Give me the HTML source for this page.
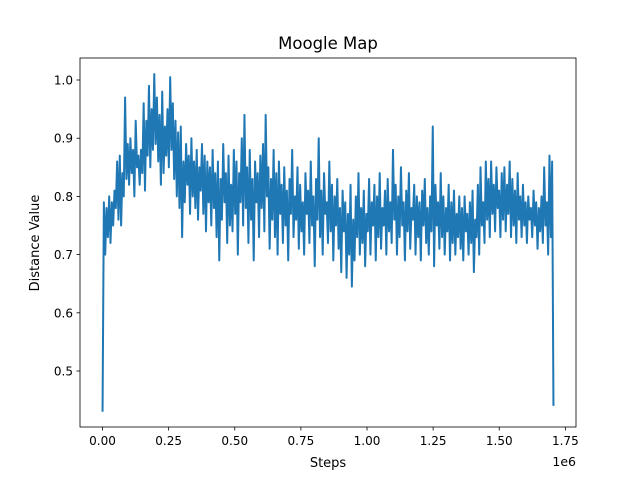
<!DOCTYPE html>
<html><head><meta charset="utf-8"><style>
body{margin:0;background:#fff;}
svg{font-family:"DejaVu Sans","Liberation Sans",sans-serif;}
</style></head><body>
<svg id="c" width="640" height="480">
<rect width="640" height="480" fill="#fff"/>
<text x="328" y="49" font-size="16.5" text-anchor="middle">Moogle Map</text>
<text x="328" y="467" font-size="13" text-anchor="middle">Steps</text>
<text x="39" y="243" font-size="13" text-anchor="middle" transform="rotate(-90 39 243)">Distance Value</text>
<text x="576" y="466" font-size="12.5" text-anchor="end">1e6</text>
<g id="ticks"></g>
<path id="line" fill="none" stroke="#1f77b4" stroke-width="2" stroke-linejoin="round"/>
<rect x="80" y="58" width="496" height="369" fill="none" stroke="#000" stroke-width="0.8"/>
</svg>
<script>
const xTicks=[0,0.25,0.5,0.75,1.0,1.25,1.5,1.75];
const xTickLabels=["0.00","0.25","0.50","0.75","1.00","1.25","1.50","1.75"];
const yTicks=[0.5,0.6,0.7,0.8,0.9,1.0];
const yTickLabels=["0.5","0.6","0.7","0.8","0.9","1.0"];
const stepStart=0, stepEnd=1.705;
const values=[
0.43,0.79,0.70,0.78,0.73,0.80,0.72,0.79,0.75,0.81,
0.78,0.86,0.76,0.87,0.75,0.84,0.80,0.97,0.83,0.89,
0.82,0.90,0.84,0.88,0.80,0.93,0.85,0.87,0.82,0.88,
0.84,0.96,0.81,0.93,0.87,0.99,0.85,0.95,0.88,1.01,
0.89,0.97,0.86,0.94,0.82,0.98,0.84,0.92,0.87,0.95,
0.85,1.005,0.88,0.96,0.83,0.93,0.80,0.91,0.78,0.92,
0.73,0.86,0.79,0.89,0.82,0.87,0.77,0.90,0.80,0.86,
0.78,0.88,0.76,0.85,0.81,0.89,0.77,0.87,0.74,0.86,
0.79,0.85,0.75,0.88,0.78,0.84,0.73,0.86,0.69,0.83,
0.76,0.89,0.79,0.84,0.72,0.87,0.75,0.82,0.74,0.88,
0.77,0.86,0.70,0.84,0.79,0.90,0.75,0.94,0.78,0.85,
0.72,0.88,0.76,0.83,0.69,0.86,0.79,0.84,0.73,0.87,
0.78,0.89,0.74,0.94,0.80,0.85,0.71,0.83,0.76,0.88,
0.73,0.84,0.70,0.86,0.77,0.82,0.72,0.85,0.75,0.81,
0.69,0.83,0.77,0.88,0.73,0.80,0.76,0.85,0.71,0.82,
0.74,0.79,0.70,0.84,0.77,0.81,0.72,0.86,0.75,0.80,
0.68,0.83,0.76,0.90,0.73,0.81,0.70,0.84,0.77,0.79,
0.72,0.86,0.74,0.82,0.69,0.80,0.75,0.83,0.71,0.78,
0.67,0.81,0.74,0.79,0.66,0.77,0.70,0.82,0.645,0.76,
0.69,0.80,0.73,0.84,0.70,0.78,0.72,0.81,0.68,0.77,
0.74,0.83,0.70,0.79,0.75,0.82,0.69,0.80,0.73,0.84,
0.71,0.78,0.75,0.81,0.70,0.83,0.74,0.79,0.72,0.88,
0.76,0.82,0.70,0.80,0.73,0.85,0.75,0.79,0.69,0.81,
0.74,0.84,0.71,0.78,0.76,0.82,0.70,0.80,0.73,0.79,
0.69,0.81,0.75,0.83,0.72,0.78,0.70,0.80,0.74,0.92,
0.68,0.82,0.75,0.79,0.71,0.84,0.73,0.80,0.70,0.78,
0.74,0.82,0.69,0.79,0.72,0.81,0.70,0.77,0.73,0.80,
0.71,0.78,0.69,0.80,0.74,0.77,0.70,0.79,0.72,0.81,
0.67,0.76,0.73,0.82,0.70,0.85,0.75,0.79,0.72,0.86,
0.76,0.83,0.73,0.86,0.77,0.82,0.74,0.85,0.78,0.81,
0.73,0.84,0.76,0.85,0.74,0.82,0.77,0.86,0.73,0.83,
0.75,0.81,0.72,0.84,0.76,0.80,0.73,0.82,0.75,0.79,
0.72,0.80,0.76,0.78,0.73,0.81,0.75,0.79,0.71,0.78,
0.74,0.80,0.72,0.85,0.75,0.79,0.70,0.87,0.73,0.86,
0.44];
const X0=80,X1=576,Y0=427,Y1=58;
const xmin=stepStart-(stepEnd-stepStart)*0.05,xmax=stepEnd+(stepEnd-stepStart)*0.05;
const ymin=0.4038,ymax=1.0378;
function xs(v){return X0+(v-xmin)/(xmax-xmin)*(X1-X0);}
function ys(v){return Y0-(v-ymin)/(ymax-ymin)*(Y0-Y1);}
const NS="http://www.w3.org/2000/svg";
const g=document.getElementById('ticks');
function mk(tag,attrs,txt){const e=document.createElementNS(NS,tag);for(const k in attrs)e.setAttribute(k,attrs[k]);if(txt!==undefined)e.textContent=txt;g.appendChild(e);return e;}
xTicks.forEach((t,i)=>{const x=xs(t);
 const l=mk('line',{x1:x,x2:x,y1:Y0,y2:Y0+3.5,stroke:'#000','stroke-width':0.8});
 
 
 const tx=mk('text',{x:x,y:Y0+18,'font-size':12,'text-anchor':'middle'},xTickLabels[i]);
 
 
});
yTicks.forEach((t,i)=>{const y=ys(t);
 const l=mk('line',{x1:X0-3.5,x2:X0,y1:y,y2:y,stroke:'#000','stroke-width':0.8});
 
 
 const tx=mk('text',{x:X0-7,y:y+4.5,'font-size':12,'text-anchor':'end'},yTickLabels[i]);
 
 
});
const n=values.length;
let d='';
values.forEach((v,i)=>{const s=stepStart+(stepEnd-stepStart)*i/(n-1);d+=(i?'L':'M')+xs(s).toFixed(2)+','+ys(v).toFixed(2);});
document.getElementById('line').setAttribute('d',d);
</script>
</body></html>
